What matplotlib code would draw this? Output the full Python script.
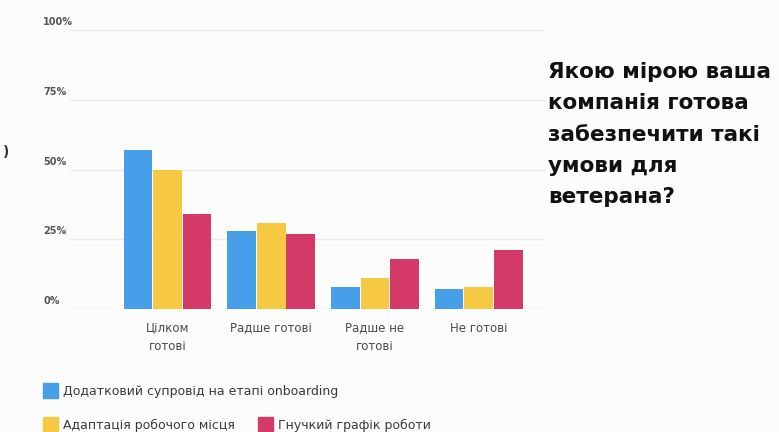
import matplotlib.pyplot as plt
import numpy as np
from matplotlib.patches import Rectangle
import matplotlib.transforms as mtransforms

categories = ["Цілком\nготові", "Радше готові", "Радше не\nготові", "Не готові"]
series_names = ["Додатковий супровід на етапі onboarding",
                "Адаптація робочого місця",
                "Гнучкий графік роботи"]
onboarding = [57, 28, 8, 7]
workplace = [50, 31, 11, 8]
flexible = [34, 27, 18, 21]
y_ticks = [0, 25, 50, 75, 100]
y_labels = ["0%", "25%", "50%", "75%", "100%"]

colors = ["#479fe9", "#f7c943", "#d33a67"]
bg = "#fcfcfd"

fig = plt.figure(figsize=(7.79, 4.32), dpi=100, facecolor=bg)
ax = fig.add_axes([70/779, 1-309/432, (545-70)/779, (309-30)/432])
ax.set_facecolor(bg)

x = np.arange(len(categories))
w = 0.285
for i, vals in enumerate([onboarding, workplace, flexible]):
    ax.bar(x + (i-1)*w, vals, width=w*0.97, color=colors[i], zorder=3)

ax.set_ylim(0, 100)
ax.set_xlim(-0.94, 3.64)
for t in y_ticks:
    ax.axhline(t, color="#ebebef", lw=1.0, zorder=1)

for s in ax.spines.values():
    s.set_visible(False)
ax.set_yticks([])
ax.set_xticks(x)
ax.set_xticklabels(categories, fontsize=8.5, color="#4a4a4a", linespacing=1.6,
                   fontweight="medium")
ax.tick_params(axis="x", length=0, pad=9)

trans = mtransforms.blended_transform_factory(fig.transFigure, ax.transData)
for t, lab in zip(y_ticks, y_labels):
    ax.text(43/779, t + 2.8, lab, transform=trans, fontsize=7, fontweight="bold",
            color="#555555", ha="left", va="center")

fig.text(3/779, 1-152/432, ")", fontsize=10, fontweight="bold", color="#333333",
         ha="left", va="center")

title = "Якою мірою ваша\nкомпанія готова\nзабезпечити такі\nумови для\nветерана?"
fig.text(548/779, 1-62/432, title, fontsize=15.5, fontweight="bold", color="#111111",
         ha="left", va="top", linespacing=1.71)

# legend
leg = [(43, 391, 0), (43, 425, 1), (258, 425, 2)]
for lx, ly, k in leg:
    fig.patches.append(Rectangle((lx/779, 1-(ly+7)/432), 15/779, 15/432,
                                 transform=fig.transFigure, color=colors[k]))
    fig.text((lx+20)/779, 1-ly/432, series_names[k], fontsize=9, color="#3a3a3a",
             ha="left", va="center")

fig.savefig("out.png", dpi=100, facecolor=bg)
